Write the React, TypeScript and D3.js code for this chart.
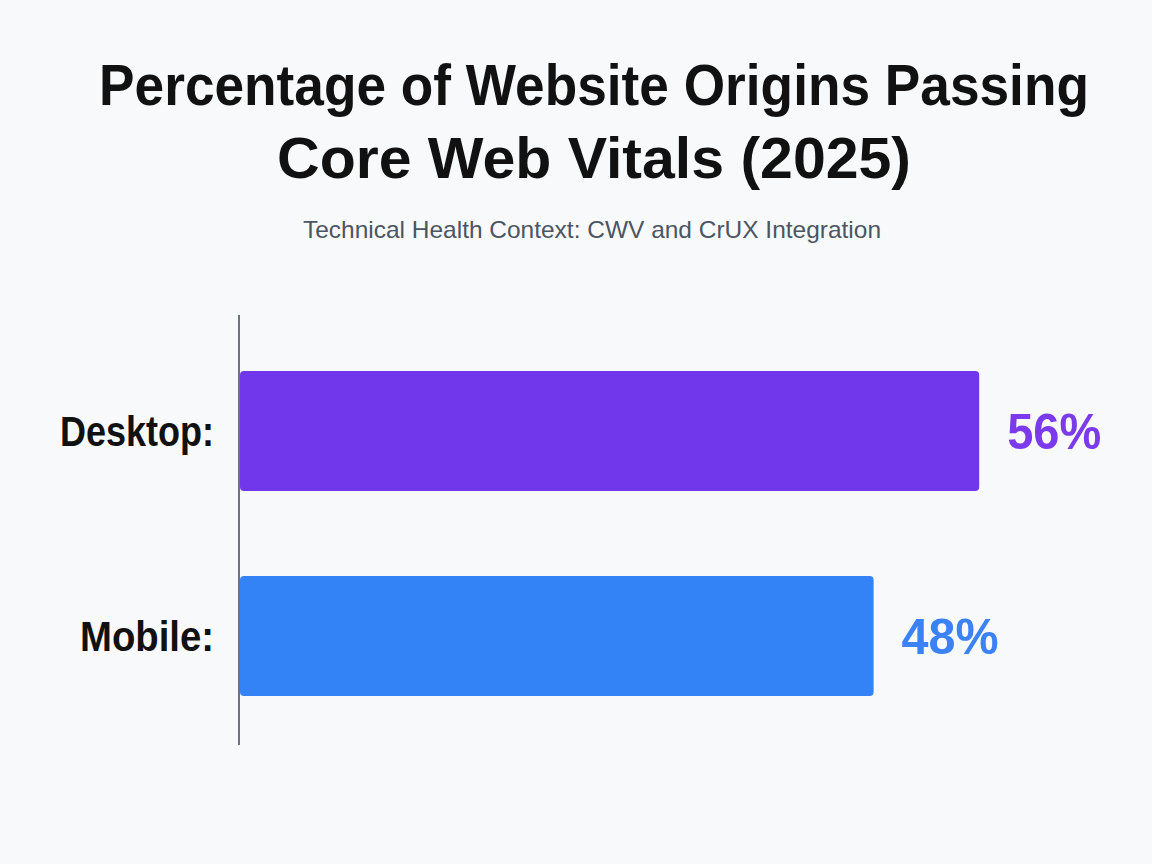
import React, { useEffect, useRef } from "react";
import * as d3 from "d3";

const categories = ["Desktop:", "Mobile:"];
const values = [56, 48];
const barColors = ["#7038ea", "#3382f6"];
const labelColors = ["#7c3aed", "#3b82f6"];
const titleLines = ["Percentage of Website Origins Passing", "Core Web Vitals (2025)"];
const subtitle = "Technical Health Context: CWV and CrUX Integration";

const width = 1152;
const height = 864;
const font = "'Liberation Sans', Arial, Helvetica, sans-serif";

// measured text widths so the narrow look of the original is kept
const titleWidths = [990, 634];
const categoryWidths = [154, 134];
const valueWidths = [94, 97];

function draw(node: SVGSVGElement) {
  const svg = d3.select(node);
  svg.selectAll("*").remove();

  svg.append("rect")
    .attr("width", width)
    .attr("height", height)
    .attr("fill", "#f8f9fb");

  // title: each line squeezed horizontally to the width in the original
  const title = svg.append("g")
    .selectAll("g")
    .data(titleLines)
    .enter().append("g");

  title.append("text")
    .attr("text-anchor", "middle")
    .style("font-family", font)
    .style("font-weight", 700)
    .style("font-size", "58px")
    .attr("fill", "#111111")
    .text(d => d);

  title.attr("transform", function (d, i) {
    const t = (this as SVGGElement).querySelector("text") as SVGTextElement;
    const w = t.getComputedTextLength() || titleWidths[i];
    return `translate(594,${105 + i * 73}) scale(${titleWidths[i] / w},1)`;
  });

  svg.append("text")
    .attr("x", 592)
    .attr("y", 238)
    .attr("text-anchor", "middle")
    .attr("textLength", 578)
    .attr("lengthAdjust", "spacingAndGlyphs")
    .style("font-family", font)
    .style("font-size", "24px")
    .attr("fill", "#4b5563")
    .text(subtitle);

  const x = d3.scaleLinear().domain([0, 60]).range([240, 240 + 60 * 13.2]);
  const y = d3.scaleBand<string>()
    .domain(categories)
    .range([328.5, 738.5])
    .paddingInner(85 / 205)
    .paddingOuter(42.5 / 205);

  const rows = svg.append("g")
    .selectAll("g")
    .data(categories)
    .enter().append("g");

  rows.append("rect")
    .attr("x", x(0))
    .attr("y", d => y(d)!)
    .attr("width", (d, i) => x(values[i]) - x(0))
    .attr("height", y.bandwidth())
    .attr("rx", 4)
    .attr("fill", (d, i) => barColors[i]);

  rows.append("text")
    .attr("x", 214)
    .attr("y", d => y(d)! + y.bandwidth() / 2)
    .attr("dy", "0.35em")
    .attr("text-anchor", "end")
    .attr("textLength", (d, i) => categoryWidths[i])
    .attr("lengthAdjust", "spacingAndGlyphs")
    .style("font-family", font)
    .style("font-weight", 700)
    .style("font-size", "42px")
    .attr("fill", "#111111")
    .text(d => d);

  rows.append("text")
    .attr("x", (d, i) => x(values[i]) + 28)
    .attr("y", d => y(d)! + y.bandwidth() / 2)
    .attr("dy", "0.36em")
    .attr("textLength", (d, i) => valueWidths[i])
    .attr("lengthAdjust", "spacingAndGlyphs")
    .style("font-family", font)
    .style("font-weight", 700)
    .style("font-size", "50px")
    .attr("fill", (d, i) => labelColors[i])
    .text((d, i) => `${values[i]}%`);

  // axis line
  svg.append("line")
    .attr("x1", 239)
    .attr("x2", 239)
    .attr("y1", 315)
    .attr("y2", 745)
    .attr("stroke", "#6b7280")
    .attr("stroke-width", 2);
}

export default function App() {
  const ref = useRef<SVGSVGElement>(null);

  useEffect(() => {
    if (ref.current) draw(ref.current);
  }, []);

  return (
    <svg
      ref={ref}
      width={width}
      height={height}
      style={{ position: "absolute", left: 0, top: 0, display: "block" }}
    />
  );
}
